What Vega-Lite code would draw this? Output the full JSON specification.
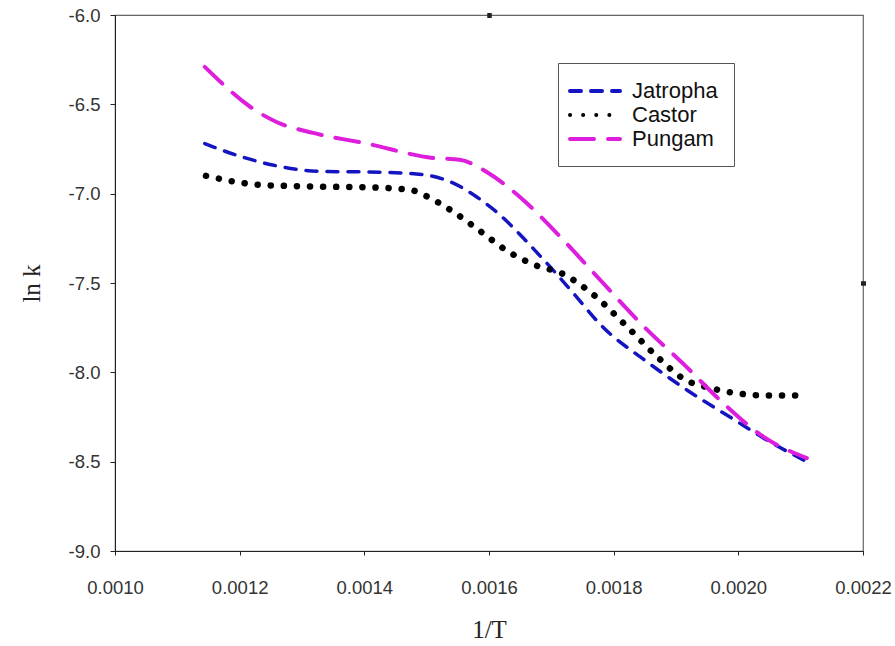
{
  "$schema": "https://vega.github.io/schema/vega-lite/v6.json",
  "autosize": "none",
  "width": 748,
  "height": 536,
  "padding": {"left": 115, "top": 15, "right": 32, "bottom": 95},
  "background": "white",
  "config": {
    "view": {"stroke": "#666666", "strokeWidth": 1.2},
    "axis": {"grid": false, "domainColor": "#222222", "tickColor": "#222222", "labelFont": "Liberation Sans", "labelColor": "#333333", "labelFontSize": 18.5, "titleFont": "Liberation Serif", "titleFontWeight": "normal", "titleFontSize": 25, "titleColor": "#222222"}
  },
  "resolve": {"axis": {"x": "independent", "y": "independent"}},
  "data": {
    "values": [
      {"x": 0.001144, "y": -6.72, "s": "Jatropha"},
      {"x": 0.00120, "y": -6.79, "s": "Jatropha"},
      {"x": 0.001253, "y": -6.84, "s": "Jatropha"},
      {"x": 0.00133, "y": -6.875, "s": "Jatropha"},
      {"x": 0.001425, "y": -6.88, "s": "Jatropha"},
      {"x": 0.001497, "y": -6.895, "s": "Jatropha"},
      {"x": 0.001542, "y": -6.94, "s": "Jatropha"},
      {"x": 0.001581, "y": -7.02, "s": "Jatropha"},
      {"x": 0.001618, "y": -7.12, "s": "Jatropha"},
      {"x": 0.00165, "y": -7.23, "s": "Jatropha"},
      {"x": 0.001677, "y": -7.33, "s": "Jatropha"},
      {"x": 0.001706, "y": -7.44, "s": "Jatropha"},
      {"x": 0.001741, "y": -7.58, "s": "Jatropha"},
      {"x": 0.001778, "y": -7.73, "s": "Jatropha"},
      {"x": 0.001853, "y": -7.94, "s": "Jatropha"},
      {"x": 0.001918, "y": -8.10, "s": "Jatropha"},
      {"x": 0.001991, "y": -8.26, "s": "Jatropha"},
      {"x": 0.002056, "y": -8.40, "s": "Jatropha"},
      {"x": 0.00211, "y": -8.50, "s": "Jatropha"},

      {"x": 0.001146, "y": -6.90, "s": "Castor"},
      {"x": 0.00123, "y": -6.95, "s": "Castor"},
      {"x": 0.00132, "y": -6.96, "s": "Castor"},
      {"x": 0.00141, "y": -6.965, "s": "Castor"},
      {"x": 0.001475, "y": -6.98, "s": "Castor"},
      {"x": 0.001497, "y": -7.01, "s": "Castor"},
      {"x": 0.001542, "y": -7.10, "s": "Castor"},
      {"x": 0.001586, "y": -7.21, "s": "Castor"},
      {"x": 0.001629, "y": -7.32, "s": "Castor"},
      {"x": 0.001674, "y": -7.40, "s": "Castor"},
      {"x": 0.001719, "y": -7.45, "s": "Castor"},
      {"x": 0.001762, "y": -7.55, "s": "Castor"},
      {"x": 0.001826, "y": -7.76, "s": "Castor"},
      {"x": 0.001869, "y": -7.91, "s": "Castor"},
      {"x": 0.001914, "y": -8.04, "s": "Castor"},
      {"x": 0.001958, "y": -8.09, "s": "Castor"},
      {"x": 0.002003, "y": -8.12, "s": "Castor"},
      {"x": 0.00205, "y": -8.13, "s": "Castor"},
      {"x": 0.00211, "y": -8.13, "s": "Castor"},

      {"x": 0.001144, "y": -6.29, "s": "Pungam"},
      {"x": 0.001228, "y": -6.54, "s": "Pungam"},
      {"x": 0.00126, "y": -6.60, "s": "Pungam"},
      {"x": 0.001318, "y": -6.66, "s": "Pungam"},
      {"x": 0.001404, "y": -6.72, "s": "Pungam"},
      {"x": 0.00151, "y": -6.80, "s": "Pungam"},
      {"x": 0.001553, "y": -6.81, "s": "Pungam"},
      {"x": 0.001597, "y": -6.88, "s": "Pungam"},
      {"x": 0.00165, "y": -7.02, "s": "Pungam"},
      {"x": 0.001714, "y": -7.24, "s": "Pungam"},
      {"x": 0.001767, "y": -7.44, "s": "Pungam"},
      {"x": 0.001853, "y": -7.76, "s": "Pungam"},
      {"x": 0.001911, "y": -7.95, "s": "Pungam"},
      {"x": 0.001975, "y": -8.17, "s": "Pungam"},
      {"x": 0.00204, "y": -8.36, "s": "Pungam"},
      {"x": 0.00211, "y": -8.48, "s": "Pungam"}
    ]
  },
  "layer": [
    {
      "encoding": {
        "x": {"field": "x", "type": "quantitative", "title": "1/T",
          "scale": {"domain": [0.001, 0.0022], "nice": false, "zero": false},
          "axis": {"values": [0.001, 0.0012, 0.0014, 0.0016, 0.0018, 0.002, 0.0022], "format": ".4f", "tickSize": 4, "labelPadding": 23, "titlePadding": 21, "labelFlush": false}},
        "y": {"field": "y", "type": "quantitative", "title": "ln k",
          "scale": {"domain": [-9, -6], "nice": false, "zero": false},
          "axis": {"values": [-9, -8.5, -8, -7.5, -7, -6.5, -6], "format": ".1f", "labelExpr": "replace(datum.label, '\u2212', '-')", "tickSize": 5, "labelPadding": 10, "titlePadding": 24}},
        "color": {"field": "s", "type": "nominal", "title": null,
          "scale": {"domain": ["Jatropha", "Castor", "Pungam"], "range": ["#1414c0", "#000000", "#dd1edd"]},
          "legend": {"orient": "none", "legendX": 443, "legendY": 48, "strokeColor": "#555555", "padding": 16, "symbolType": "M-2.5,0H2.5", "symbolSize": 400, "symbolStrokeWidth": 4, "labelFont": "Liberation Sans", "labelFontSize": 22, "labelColor": "#111111", "rowPadding": 1, "labelOffset": 34,
            "encode": {"symbols": {"update": {"strokeCap": {"value": "round"}, "x": {"value": 21}}}}}},
        "strokeDash": {"field": "s", "type": "nominal", "title": null,
          "scale": {"domain": ["Jatropha", "Castor", "Pungam"], "range": [[11, 10], [0.1, 13], [24, 14]]}}
      },
      "layer": [
        {
          "transform": [{"filter": "datum.s === 'Jatropha'"}],
          "mark": {"type": "line", "interpolate": "monotone", "strokeCap": "round", "strokeWidth": 3.5}
        },
        {
          "transform": [{"filter": "datum.s === 'Castor'"}],
          "mark": {"type": "line", "interpolate": "monotone", "strokeCap": "round", "strokeWidth": 6.5}
        },
        {
          "transform": [{"filter": "datum.s === 'Pungam'"}],
          "mark": {"type": "line", "interpolate": "monotone", "strokeCap": "round", "strokeWidth": 4}
        }
      ]
    },
    {
      "mark": {"type": "point", "opacity": 0},
      "encoding": {
        "x": {"field": "x", "type": "quantitative", "title": null,
          "axis": {"orient": "top", "values": [0.0016], "labels": false, "domain": false, "tickSize": 5, "tickWidth": 4.5, "offset": -2.5}},
        "y": {"field": "y", "type": "quantitative", "title": null,
          "axis": {"orient": "right", "values": [-7.5], "labels": false, "domain": false, "tickSize": 5, "tickWidth": 4.5, "offset": -2.5}}
      }
    }
  ]
}
